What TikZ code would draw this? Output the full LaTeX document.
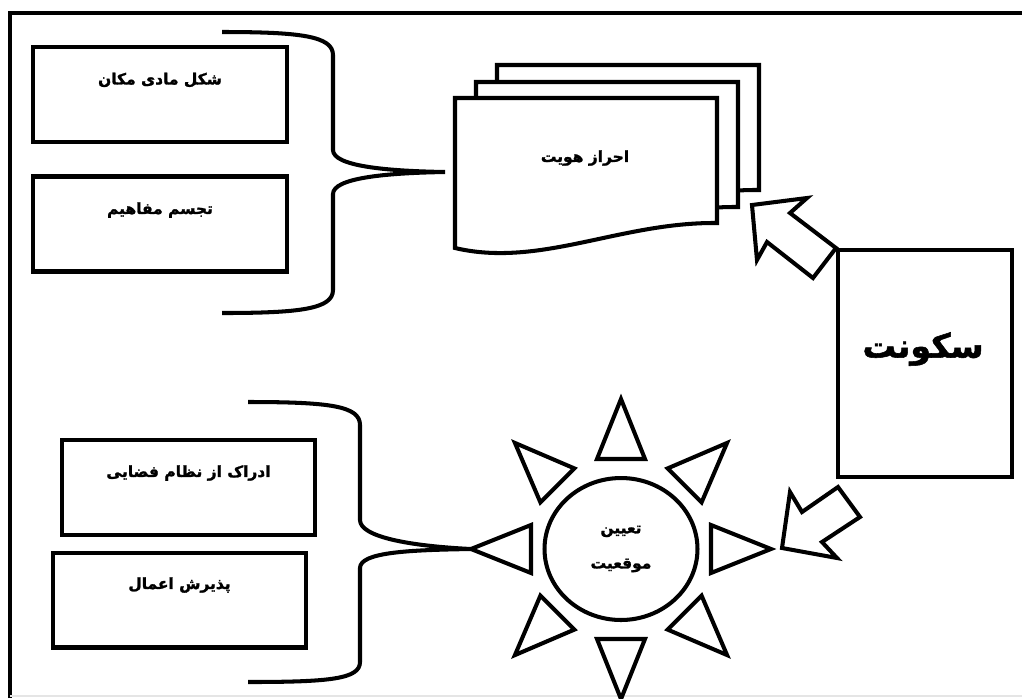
\documentclass[tikz,border=0pt]{standalone}
\usepackage{fontspec}
\newfontfamily\persianfont[Script=Arabic, BoldFeatures={FakeBold=1.6}]{DejaVu Sans}
\TeXXeTstate=1
\newcommand{\fatxt}[1]{\beginR #1\endR}
\usetikzlibrary{shapes.geometric}

\begin{document}
\begin{tikzpicture}[x=0.02cm, y=-0.02cm, line width=2.3pt,
    cell/.style={draw, rectangle, minimum width=5.07cm, minimum height=1.9cm, inner sep=0pt},
    word/.style={font=\persianfont\bfseries\fontsize{8.8}{11}\selectfont, inner sep=0pt},
    brace/.style={line cap=butt},
    blockarrow/.style={draw, fill=white, line join=miter}]
    \useasboundingbox (0,0) rectangle (1022,698);

    % frame
    \draw (10,698) -- (10,13) -- (1022,13);
    \draw[gray!20, line width=0.6pt] (10,696) -- (1022,696);

    % upper group
    \node[cell] (shape) at (160,94.5) {};
    \node[word] (shapeT) at (160,80) {\fatxt{شکل مادی مکان}};
    \node[cell] (embody) at (160,224) {};
    \node[word] (embodyT) at (160,210) {\fatxt{تجسم مفاهیم}};

    % identity, a stack of pages
    \foreach \dx/\dy in {42/-33, 21/-16, 0/0}
        \draw[fill=white, shift={(\dx,\dy)}] (455,98) -- (717,98) -- (717,223)
            .. controls (620,222) and (540,268) .. (455,248) -- cycle;
    \node[word] (ident) at (585,158) {\fatxt{احراز هویت}};
    \coordinate (identL) at (445,172);

    \draw[brace] (222,32) .. controls (300,32) and (333,36) .. (333,55) -- (333,150)
        .. controls (333,166) and (385,171) .. (identL)
        .. controls (385,173) and (333,178) .. (333,194) -- (333,290)
        .. controls (333,309) and (300,313) .. (222,313);

    % dwelling
    \node[draw, minimum width=3.48cm, minimum height=4.54cm, inner sep=0pt] (home) at (925,363.5) {};
    \node[font=\persianfont\bfseries\fontsize{19}{24}\selectfont, inner sep=0pt] (homeT) at (923,349) {\fatxt{سکونت}};

    \draw[blockarrow] (home.north west) -- (790,213) -- (807,198) -- (752,205)
        -- (757,260) -- (767,242) -- (813,278) -- cycle;
    \draw[blockarrow] (838,487) -- (802,512) -- (790,492) -- (782,548)
        -- (837,558) -- (822,542) -- (860,517) -- cycle;

    % the sun
    \node[draw, ellipse, minimum width=3.06cm, minimum height=2.84cm, align=center,
        font=\persianfont\bfseries\fontsize{8.8}{20}\selectfont] (sun) at (621,549)
        {\fatxt{تعیین}\\\fatxt{موقعیت}};
    \begin{scope}[shift={(sun.center)}]
        \foreach \a in {0,45,...,315}
            \draw[rotate=\a] (90,-24) -- (150,0) coordinate (ray\a) -- (90,24) -- cycle;
    \end{scope}

    % lower group
    \node[cell] (order) at (188.5,487.5) {};
    \node[word] (orderT) at (188.5,473) {\fatxt{ادراک از نظام فضایی}};
    \node[cell] (accept) at (179.5,600) {};
    \node[word] (acceptT) at (179.5,585) {\fatxt{پذیرش اعمال}};

    \draw[brace] (248,402) .. controls (330,402) and (360,406) .. (360,425) -- (360,520)
        .. controls (360,537) and (410,546) .. (ray180)
        .. controls (410,550) and (360,552) .. (360,568) -- (360,662)
        .. controls (360,679) and (330,682) .. (248,682);
\end{tikzpicture}
\end{document}
